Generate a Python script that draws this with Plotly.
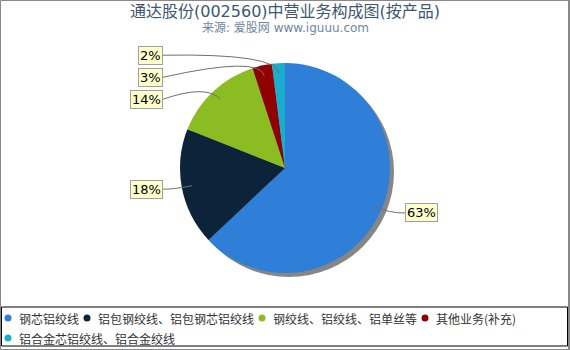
import math
import plotly.graph_objects as go

# ---------------- data ----------------
categories = ["钢芯铝绞线", "铝包钢绞线、铝包钢芯铝绞线", "钢绞线、铝绞线、铝单丝等",
              "其他业务(补充)", "铝合金芯铝绞线、铝合金绞线"]
shares = [63, 18, 14, 3, 2]
colors = ["#2f7ed8", "#0d233a", "#8bbc21", "#910000", "#1aadce"]
title_text = "通达股份(002560)中营业务构成图(按产品)"
subtitle_text = "来源: 爱股网 www.iguuu.com"

# ---------------- layout constants ----------------
W, H = 570, 350
CX, CY, R = 285, 168, 105
SHADOW = 4
FONT = "DejaVu Sans, Noto Sans CJK SC, sans-serif"
CJK = "Noto Sans CJK SC, DejaVu Sans, sans-serif"


def px(x):
    return x / W


def py(y):
    return 1 - y / H


fig = go.Figure()

# shadow of the pie
fig.add_trace(go.Pie(
    values=[1], marker=dict(colors=["#868686"], line=dict(width=0)),
    domain=dict(x=[px(CX - R + SHADOW), px(CX + R + SHADOW)],
                y=[py(CY + R + SHADOW), py(CY - R + SHADOW)]),
    textinfo="none", hoverinfo="skip", showlegend=False, sort=False))

# main pie
fig.add_trace(go.Pie(
    labels=categories, values=shares,
    marker=dict(colors=colors, line=dict(width=0)),
    domain=dict(x=[px(CX - R), px(CX + R)], y=[py(CY + R), py(CY - R)]),
    direction="clockwise", rotation=0, sort=False,
    textinfo="none", showlegend=False))

annotations = []
shapes = []

# ---------------- data labels with connectors ----------------
total = sum(shares)
acc = 0
items = []
for v in shares:
    mid = (acc + v / 2) / total * 2 * math.pi
    acc += v
    yn = CY - (R + 8) * math.cos(mid)
    items.append(dict(v=v, mid=mid, y=yn, right=math.sin(mid) >= 0))

GAP = 22
for side in (True, False):
    grp = sorted([it for it in items if it["right"] == side], key=lambda d: d["y"])
    prev = None
    for it in grp:
        if prev is not None and it["y"] < prev + GAP:
            it["y"] = prev + GAP
        prev = it["y"]

for it in items:
    mid = it["mid"]
    ly = it["y"]
    if it["right"]:
        lx = CX + R + 15
        anchor = "left"
    else:
        lx = CX - R - 17
        anchor = "right"
    x1 = CX + 0.9 * R * math.sin(mid)
    y1 = CY - 0.9 * R * math.cos(mid)
    qx = CX + (R + 10) * math.sin(mid)
    qy = CY - (R + 10) * math.cos(mid)
    shapes.append(dict(
        type="path", xref="paper", yref="paper", layer="above",
        path=f"M {px(lx)},{py(ly)} Q {px(qx)},{py(qy)} {px(x1)},{py(y1)}",
        line=dict(color="#707070", width=1)))
    annotations.append(dict(
        x=px(lx), y=py(ly), xref="paper", yref="paper", xanchor=anchor, yanchor="middle",
        text=f"{round(it['v'] / total * 100)}%", showarrow=False,
        font=dict(family=FONT, size=13, color="#000000"),
        bgcolor="#ffffcc", bordercolor="#a0a0a0", borderwidth=1, borderpad=1))

# ---------------- title ----------------
annotations.append(dict(x=px(285), y=py(12), xref="paper", yref="paper", xanchor="center",
                        yanchor="middle", text=title_text, showarrow=False,
                        font=dict(family=FONT, size=16, color="#3E576F")))
annotations.append(dict(x=px(285), y=py(28), xref="paper", yref="paper", xanchor="center",
                        yanchor="middle", text=subtitle_text, showarrow=False,
                        font=dict(family=FONT, size=12, color="#6D869F")))

# ---------------- legend (manual, circle markers) ----------------
legend_pos = [(8, 318), (87, 318), (262, 318), (425, 318), (8, 338)]
for (mx, my), name, col in zip(legend_pos, categories, colors):
    shapes.append(dict(type="circle", xref="paper", yref="paper",
                       x0=px(mx - 3.5), x1=px(mx + 3.5), y0=py(my + 3.5), y1=py(my - 3.5),
                       fillcolor=col, line=dict(width=0)))
    annotations.append(dict(x=px(mx + 9), y=py(my), xref="paper", yref="paper",
                            xanchor="left", yanchor="middle", text=name, showarrow=False,
                            font=dict(family=CJK, size=12, color="#333333")))

# legend frame
shapes.append(dict(type="rect", xref="paper", yref="paper",
                   x0=px(1.5), x1=px(567.5), y0=py(346), y1=py(307),
                   line=dict(color="#000000", width=1)))
# outer frame
shapes.append(dict(type="rect", xref="paper", yref="paper",
                   x0=px(0.5), x1=px(569.5), y0=py(349.5), y1=py(0.5),
                   line=dict(color="#888888", width=1)))
shapes.append(dict(type="line", xref="paper", yref="paper",
                   x0=px(569), x1=px(569), y0=0, y1=1,
                   line=dict(color="#888888", width=2)))

fig.update_layout(
    width=W, height=H, margin=dict(l=0, r=0, t=0, b=0),
    paper_bgcolor="white", plot_bgcolor="white",
    showlegend=False, annotations=annotations, shapes=shapes)

fig.write_html("out.html")
